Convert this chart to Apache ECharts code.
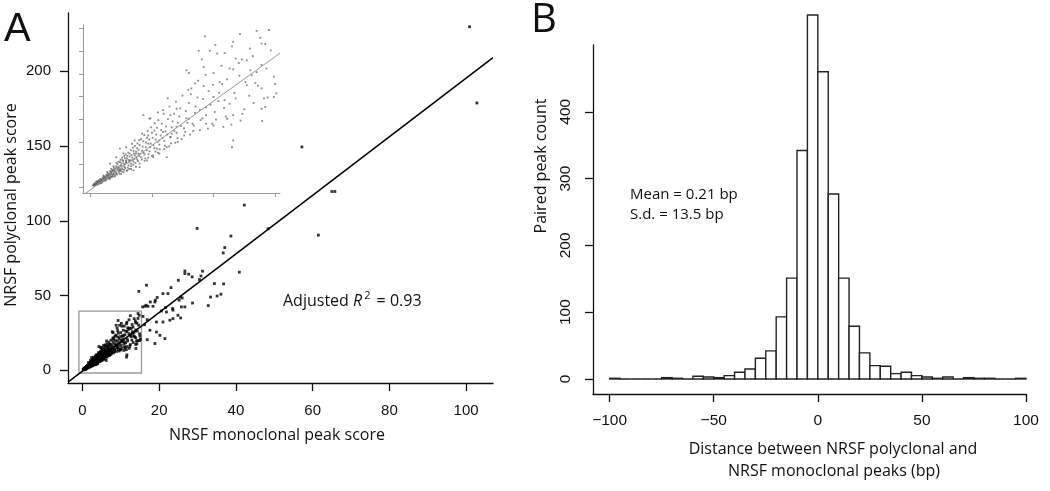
<!DOCTYPE html>
<html>
<head>
<meta charset="utf-8">
<script src="https://cdn.jsdelivr.net/npm/echarts@6/dist/echarts.min.js"></script>
<style>
  html, body { margin: 0; padding: 0; background: #fff; }
  #chart { width: 1050px; height: 491px; }
</style>
</head>
<body>
<div id="chart"></div>
<script>
// ---- panel A: monoclonal (x) vs polyclonal (y) peak score ----
// points inside the grey zoom box (also shown in the inset)
const clusterPts = [
  [0.2,0.4],[0.3,0.7],[0.3,0.3],[0.4,1.0],[0.4,0.5],[0.5,0.8],[0.5,1.3],[0.6,0.6],[0.6,1.1],[0.7,1.5],
  [0.7,0.9],[0.8,1.2],[0.8,1.8],[0.9,0.9],[0.9,1.5],[1.0,2.1],[1.0,1.2],[1.1,1.7],[1.1,2.4],[1.2,1.4],
  [1.2,2.0],[1.3,2.7],[1.3,1.6],[1.4,2.3],[1.4,3.1],[1.5,1.9],[1.5,2.7],[1.6,3.5],[1.6,2.1],[1.7,3.0],
  [1.7,2.4],[1.8,3.8],[1.8,2.7],[1.9,3.3],[1.9,4.3],[2.0,2.6],[2.0,3.6],[2.1,4.6],[2.1,3.0],[2.2,4.0],
  [2.2,5.1],[2.3,3.3],[2.3,4.4],[2.4,5.5],[2.4,3.6],[2.5,4.8],[2.5,2.9],[2.6,6.0],[2.6,4.0],[2.7,5.2],
  [2.7,3.3],[2.8,6.4],[2.8,4.4],[2.9,5.6],[3.0,3.7],[3.0,6.9],[3.1,4.8],[3.1,6.0],[3.2,7.4],[3.3,5.2],
  [3.3,4.0],[3.4,6.5],[3.5,8.0],[3.5,5.6],[3.6,7.0],[3.7,4.5],[3.8,8.6],[3.8,6.1],[3.9,7.4],[4.0,9.3],
  [4.0,5.2],[4.1,6.6],[4.2,8.0],[4.3,10.1],[4.4,5.8],[4.4,7.2],[4.5,8.8],[4.6,10.9],[4.7,6.5],[4.8,7.9],
  [4.9,9.6],[5.0,12.0],[5.1,7.0],[5.2,8.6],[5.3,10.5],[5.4,13.1],[5.5,7.6],[5.6,9.4],[5.7,11.4],[5.8,14.0],
  [6.0,8.4],[6.0,10.2],[6.1,12.3],[6.3,15.0],[6.4,9.0],[6.5,11.0],[6.6,13.2],[6.8,16.2],[6.9,9.8],[7.0,12.0],
  [7.1,14.2],[7.3,17.4],[7.4,10.6],[7.6,13.0],[7.8,15.2],[8.0,18.6],[8.1,11.6],[8.3,14.0],[8.5,16.4],[8.7,19.8],
  [8.9,12.6],[9.1,15.2],[9.4,17.6],[9.6,21.2],[9.9,14.0],[10.1,16.6],[10.4,19.0],[10.7,22.8],[11.0,15.6],[11.3,18.4],
  [11.7,20.8],[12.1,24.6],[12.5,17.2],[12.9,20.2],[13.4,23.0],[13.9,27.0],[14.4,19.8],[14.9,24.4],
  [13.5,34.5],[14.5,34.7],[13.8,33.0],[13.9,31.7],[14.2,31.6],[11.6,32.1],[11.5,31.1],[9.3,33.3],[8.8,30.1],[10.9,29.6],
  [10.3,29.5],[9.7,30.1],[11.8,28.4],[12.3,28.2],[12.7,28.0],[13.2,28.9],[11.3,26.2],[11.6,26.0],[7.8,25.8],[8.0,25.2],
  [9.2,26.5],[10.0,25.2],[13.0,25.8],[13.1,24.7],[13.5,25.4],[8.5,22.9],[8.2,21.8],[9.2,22.3],[10.5,23.2],[12.7,22.5],
  [13.9,21.8],[14.1,19.6],[14.9,19.9],[15.1,20.7],[14.2,17.7],[13.9,17.3],[10.9,19.2],[10.0,19.9],[7.0,17.3],[5.9,17.0],
  [4.3,15.9],[4.8,15.1],[6.5,15.9],[8.9,17.0],[9.4,15.9],[8.0,15.1],[8.4,13.6],[9.4,14.0],[10.0,13.6],[11.1,15.1],
  [11.6,15.9],[12.2,14.7],[10.8,13.3],[11.6,10.3],[11.5,8.8],[7.7,12.2],[7.1,10.0],[6.5,11.1],[5.6,10.3],[5.1,6.6],
  [3.7,7.4],[4.7,9.6],[2.9,8.8],[2.4,8.5],[3.2,5.9],[4.0,4.4],[5.6,7.4],[6.2,6.6],[4.2,11.8],[5.2,12.5],
  [5.9,12.2],[7.0,13.3],[6.6,11.8],[3.6,10.3],[4.7,11.4],[5.4,8.5],[6.2,8.8],[2.9,5.9],[2.1,6.6],[1.6,5.2],
  [2.4,3.7],[3.5,3.7],[4.6,5.9],[14.5,38.0],[12.5,36.5],[14.8,36.8],
  [0.25,0.55],[0.35,0.45],[0.45,0.75],[0.55,1.05],[0.62,1.35],[0.68,0.72],[0.75,1.22],[0.83,1.58],[0.87,1.02],[0.93,1.73],
  [0.97,1.31],[1.04,1.88],[1.08,1.47],[1.13,2.16],[1.17,1.62],[1.23,2.31],[1.27,1.85],[1.33,2.52],[1.36,1.98],[1.42,2.68],
  [1.46,2.12],[1.52,2.95],[1.55,2.41],[1.58,1.78],[1.63,2.84],[1.67,3.28],[1.72,2.22],[1.76,3.52],[1.79,2.95],[1.83,2.38],
  [1.86,3.68],[1.91,2.88],[1.94,3.95],[1.97,2.34],[0.52,0.58],[0.78,0.81],[1.06,2.55],[1.38,3.36],[1.69,4.05],[1.88,4.62],
  [2.05,4.12],[2.08,3.21],[2.12,5.35],[2.15,2.78],[2.18,4.38],[2.26,3.72],[2.29,5.62],[2.33,4.05],[2.36,2.95],[2.42,4.72],
  [2.45,6.05],[2.48,3.92],[2.52,5.28],[2.55,3.45],[2.58,6.52],[2.63,4.55],[2.66,5.75],[2.72,3.82],[2.75,6.88],[2.79,5.02],
  [2.83,4.15],[2.86,7.25],[2.92,5.38],[2.95,3.62],[2.98,6.35],[3.04,4.32],[3.07,7.62],[3.12,5.48],[3.15,4.02],[3.19,6.75],
  [3.24,5.85],[3.28,8.15],[3.31,4.62],[3.36,7.05],[3.42,5.92],[3.45,8.72],[3.48,4.95],[3.53,7.45],[3.58,6.22],[3.62,9.12],
  [3.66,5.35],[3.71,7.82],[3.75,6.52],[3.82,9.65],[3.86,5.72],[3.91,8.22],[3.95,6.92],[3.97,10.4],[2.68,7.45],[3.38,9.55],
  [4.05,7.35],[4.12,10.6],[4.18,6.12],[4.25,8.95],[4.33,7.55],[4.38,11.5],[4.46,6.35],[4.52,9.85],[4.58,8.15],[4.65,12.4],
  [4.72,7.25],[4.78,10.5],[4.85,8.85],[4.92,13.2],[4.98,6.85],[5.06,10.9],[5.13,9.25],[5.22,14.1],[5.28,7.85],[5.35,11.6],
  [5.45,9.95],[5.52,14.8],[5.62,8.35],[5.75,12.6],[5.85,10.8],[5.95,16.2],[6.05,9.15],[6.15,13.4],[6.25,11.6],[6.42,17.8],
  [6.55,9.65],[6.68,14.5],[6.82,12.4],[6.95,18.9],[7.08,10.8],[7.22,15.6],[7.35,13.5],[7.48,20.2],[7.62,11.4],[7.75,16.8],
  [7.88,14.2],[7.95,21.5],[5.48,16.5],[6.28,19.6],[4.88,15.2],
  [8.15,20.5],[8.35,12.4],[8.55,17.8],[8.75,23.5],[8.95,14.8],[9.15,19.5],[9.35,24.8],[9.55,12.9],[9.75,18.2],[9.95,22.6],
  [10.2,14.9],[10.45,20.8],[10.65,26.8],[10.85,17.5],[11.1,23.8],[11.45,13.8],[11.8,19.6],[12.05,27.4],[12.35,16.2],[12.6,23.2],
  [12.95,30.6],[13.25,18.6],[13.6,22.4],[13.95,14.6],[14.3,26.2],[14.65,30.2],[15.0,22.8],[9.05,28.2],[10.15,31.4],[12.15,33.8]
];
// points outside the zoom box
const outlierPts = [
  [100.9,229.8],[102.8,178.8],[57.2,149.4],[65.0,119.6],[65.8,119.6],[61.5,90.4],[42.2,110.5],[29.9,94.9],[48.4,94.7],[38.7,89.8],
  [37.1,82.1],[36.7,78.5],[40.9,65.6],[26.7,66.4],[27.7,64.3],[26.7,64.7],[28.6,62.5],[31.3,66.3],[30.9,63.1],[30.5,60.7],
  [25.0,60.2],[23.1,55.3],[21.0,51.3],[22.3,51.3],[16.7,56.9],[14.7,52.8],[19.5,48.7],[19.0,46.9],[18.9,45.7],[25.6,49.0],
  [26.0,48.4],[25.2,46.9],[34.4,58.0],[36.8,57.8],[33.4,49.0],[35.1,49.7],[36.1,50.9],[32.8,43.3],[28.7,45.0],[25.8,42.4],
  [24.9,36.8],[25.6,35.0],[23.5,41.3],[21.7,42.0],[20.6,39.7],[18.4,42.8],[23.6,34.6],[26.7,42.4],[15.7,42.4],[17.1,42.8],
  [16.9,33.9],[17.6,26.8],[19.3,25.6],[20.2,23.4],[18.9,17.9],[21.5,21.2],[16.9,20.5],[19.3,32.3],[21.0,32.3],[22.8,33.5],
  [21.9,39.0],[23.6,40.2],[16.3,42.8],[16.6,43.5],[17.7,45.7],[16.2,30.5],[15.8,36.0]
];
const fitIntercept = -0.6;
const fitSlope = 1.96;
const fitXRange = [-3.75, 107];
const insetFitXRange = [-0.6, 15.4];
const zoomBox = [[-0.9, -1.8], [15.4, 39.6]];
const xTicksA = [0, 20, 40, 60, 80, 100];
const yTicksA = [0, 50, 100, 150, 200];
const insetXTicks = [0, 5, 10, 15];
const insetYTicks = [0, 5, 10, 15, 20, 25, 30, 35];

// ---- panel B: histogram of peak distance (bp), 5 bp bins ----
const binStarts = [-100,-95,-90,-85,-80,-75,-70,-65,-60,-55,-50,-45,-40,-35,-30,-25,-20,-15,-10,-5,
                   0,5,10,15,20,25,30,35,40,45,50,55,60,65,70,75,80,85,90,95];
const binCounts = [1,0,0,0,0,2,1,0,4,3,2,5,10,15,31,42,93,151,342,545,
                   460,277,151,79,39,20,19,8,10,5,3,1,3,0,2,1,1,0,0,1];
const binWidth = 5;
const xTicksB = [-100, -50, 0, 50, 100];
const yTicksB = [0, 100, 200, 300, 400];

const fitLine = (r) => r.map(x => [x, fitIntercept + fitSlope * x]);
const numFont = 'Liberation Sans';
const txtFont = 'Open Sans';

const axisBase = (extra) => Object.assign({
  type: 'value',
  splitLine: { show: false },
  axisLine: { show: true, onZero: false, lineStyle: { color: '#111', width: 1.3 } },
  axisTick: { show: true, inside: false, length: 8, lineStyle: { color: '#111', width: 1.3 } },
  axisLabel: { color: '#111', fontFamily: numFont, fontSize: 15 }
}, extra);

const chart = echarts.init(document.getElementById('chart'), null, { renderer: 'canvas' });

chart.setOption({
  animation: false,
  backgroundColor: '#fff',
  grid: [
    { left: 68, top: 13, width: 425, height: 370 },
    { left: 83, top: 25, width: 197, height: 168 },
    { left: 593, top: 45, width: 433, height: 349 }
  ],
  xAxis: [
    axisBase({ gridIndex: 0, min: fitXRange[0], max: fitXRange[1],
      axisTick: { customValues: xTicksA, length: 8, lineStyle: { color: '#111', width: 1.3 } },
      axisLabel: { customValues: xTicksA, margin: 20, color: '#111', fontFamily: numFont, fontSize: 15 } }),
    axisBase({ gridIndex: 1, min: insetFitXRange[0], max: insetFitXRange[1],
      axisLine: { show: true, onZero: false, lineStyle: { color: '#999', width: 1 } },
      axisTick: { customValues: insetXTicks, length: 4, lineStyle: { color: '#999', width: 1 } },
      axisLabel: { show: false } }),
    axisBase({ gridIndex: 2, min: -108, max: 100,
      axisTick: { customValues: xTicksB, length: 8, lineStyle: { color: '#111', width: 1.3 } },
      axisLabel: { customValues: xTicksB, margin: 19, color: '#111', fontFamily: numFont, fontSize: 15.5,
        formatter: v => (v < 0 ? '\u2212' + Math.abs(v) : String(v)) } })
  ],
  yAxis: [
    axisBase({ gridIndex: 0, min: -8.5, max: 239,
      axisTick: { customValues: yTicksA, length: 8, lineStyle: { color: '#111', width: 1.3 } },
      axisLabel: { customValues: yTicksA, margin: 17, color: '#111', fontFamily: numFont, fontSize: 15 } }),
    axisBase({ gridIndex: 1, min: -1.3, max: 35.8,
      axisLine: { show: true, onZero: false, lineStyle: { color: '#999', width: 1 } },
      axisTick: { customValues: insetYTicks, length: 4, lineStyle: { color: '#999', width: 1 } },
      axisLabel: { show: false } }),
    axisBase({ gridIndex: 2, min: -22.5, max: 500,
      axisTick: { customValues: yTicksB, length: 8, lineStyle: { color: '#111', width: 1.3 } },
      axisLabel: { customValues: yTicksB, margin: 19, rotate: 90, color: '#111', fontFamily: numFont, fontSize: 15.5 } })
  ],
  series: [
    {
      type: 'line', xAxisIndex: 0, yAxisIndex: 0, data: fitLine(fitXRange),
      symbol: 'none', lineStyle: { color: '#000', width: 1.5 }, silent: true,
      markArea: {
        silent: true,
        itemStyle: { color: 'rgba(0,0,0,0)', borderColor: '#999', borderWidth: 1.3 },
        data: [[{ coord: zoomBox[0] }, { coord: zoomBox[1] }]]
      }
    },
    {
      type: 'scatter', xAxisIndex: 0, yAxisIndex: 0, data: clusterPts,
      symbol: 'rect', symbolSize: 2.8, itemStyle: { color: '#000' }
    },
    {
      type: 'scatter', xAxisIndex: 0, yAxisIndex: 0, data: outlierPts,
      symbol: 'rect', symbolSize: 2.8, itemStyle: { color: '#000' }
    },
    {
      type: 'line', xAxisIndex: 1, yAxisIndex: 1, data: fitLine(insetFitXRange),
      symbol: 'none', lineStyle: { color: '#999', width: 1 }, silent: true
    },
    {
      type: 'scatter', xAxisIndex: 1, yAxisIndex: 1, data: clusterPts,
      symbol: 'rect', symbolSize: 1.8, itemStyle: { color: '#555', opacity: 0.7 }
    },
    {
      type: 'custom', xAxisIndex: 2, yAxisIndex: 2, clip: false,
      data: binStarts.map((s, i) => [s, s + binWidth, binCounts[i]]),
      encode: { x: [0, 1], y: 2 },
      renderItem: (params, api) => {
        const top = api.coord([api.value(0), api.value(2)]);
        const base = api.coord([api.value(1), 0]);
        return {
          type: 'rect',
          shape: { x: top[0], y: top[1], width: base[0] - top[0], height: base[1] - top[1] },
          style: { fill: '#fff', stroke: '#222', lineWidth: 1.4 }
        };
      }
    }
  ],
  graphic: [
    { type: 'text', x: 4, y: 30, style: { text: 'A', font: '40px ' + numFont, fill: '#111', verticalAlign: 'middle' } },
    { type: 'text', x: 531, y: 21, style: { text: 'B', font: '40px ' + txtFont, fill: '#111', verticalAlign: 'middle' } },
    { type: 'text', x: 277, y: 435, style: { text: 'NRSF monoclonal peak score', font: '16px ' + txtFont, fill: '#111', align: 'center', verticalAlign: 'middle' } },
    { type: 'text', x: 11, y: 205, rotation: Math.PI / 2, style: { text: 'NRSF polyclonal peak score', font: '16px ' + txtFont, fill: '#111', align: 'center', verticalAlign: 'middle' } },
    { type: 'text', x: 283, y: 301, style: {
        text: '{a|Adjusted }{i|R}{s|2}{a| = 0.93}', verticalAlign: 'middle',
        rich: {
          a: { font: '16px ' + txtFont, fill: '#111', lineHeight: 22 },
          i: { font: 'italic 16px ' + txtFont, fill: '#111', lineHeight: 22 },
          s: { font: '11px ' + txtFont, fill: '#111', lineHeight: 22, padding: [0, 2, 10, 2] }
        } } },
    { type: 'text', x: 541, y: 166, rotation: Math.PI / 2, style: { text: 'Paired peak count', font: '16px ' + txtFont, fill: '#111', align: 'center', verticalAlign: 'middle' } },
    { type: 'text', x: 630, y: 195, style: { text: 'Mean = 0.21 bp', font: '15px ' + txtFont, fill: '#111', verticalAlign: 'middle' } },
    { type: 'text', x: 630, y: 215, style: { text: 'S.d. = 13.5 bp', font: '15px ' + txtFont, fill: '#111', verticalAlign: 'middle' } },
    { type: 'text', x: 833, y: 449, style: { text: 'Distance between NRSF polyclonal and', font: '16px ' + txtFont, fill: '#111', align: 'center', verticalAlign: 'middle' } },
    { type: 'text', x: 834, y: 471, style: { text: 'NRSF monoclonal peaks (bp)', font: '16px ' + txtFont, fill: '#111', align: 'center', verticalAlign: 'middle' } }
  ]
});
</script>
</body>
</html>
